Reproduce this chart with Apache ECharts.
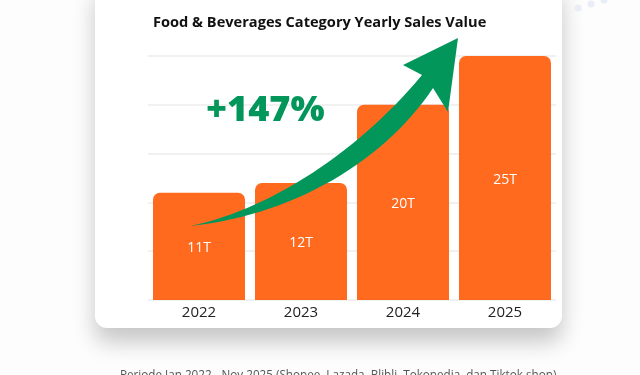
<!DOCTYPE html>
<html>
<head>
<meta charset="utf-8">
<script src="https://cdn.jsdelivr.net/npm/echarts@6/dist/echarts.min.js"></script>
<style>
    html, body { margin: 0; padding: 0; background: #fdfdfd; }
    #chart { width: 640px; height: 375px; }
</style>
</head>
<body>
<div id="chart"></div>
<script>
var years = ['2022', '2023', '2024', '2025'];
var salesValues = [11, 12, 20, 25];
var valueLabels = ['11T', '12T', '20T', '25T'];
var growthText = '+147%';
var titleText = 'Food & Beverages Category Yearly Sales Value';
var noteText = 'Periode Jan 2022 - Nov 2025 (Shopee, Lazada, Blibli, Tokopedia, dan Tiktok shop)';

var myChart = echarts.init(document.getElementById('chart'));

var green = '#02965b';
var orange = '#ff6a1f';

// sample a cubic bezier into points (for the decorative arrow)
function cubic(p0, p1, p2, p3, n) {
    var pts = [];
    for (var i = 0; i <= n; i++) {
        var t = i / n, u = 1 - t;
        pts.push([
            u * u * u * p0[0] + 3 * u * u * t * p1[0] + 3 * u * t * t * p2[0] + t * t * t * p3[0],
            u * u * u * p0[1] + 3 * u * u * t * p1[1] + 3 * u * t * t * p2[1] + t * t * t * p3[1]
        ]);
    }
    return pts;
}

var arrowPts = cubic([190, 226], [270, 210], [360, 150], [422, 75], 30)
    .concat([[403, 65], [458, 38], [448, 112]])
    .concat(cubic([433, 88], [385, 160], [295, 215], [190, 226], 30));

var option = {
    backgroundColor: '#fdfdfd',
    animation: false,
    title: {
        text: titleText,
        left: 148,
        top: 10,
        textStyle: {
            fontFamily: 'Open Sans',
            fontWeight: 'bold',
            fontSize: 14.6,
            color: '#111'
        }
    },
    grid: {
        left: 148,
        right: 84,
        top: 56,
        bottom: 75
    },
    xAxis: {
        type: 'category',
        data: years,
        axisLine: { show: false },
        axisTick: { show: false },
        axisLabel: {
            margin: 5,
            fontFamily: 'Open Sans',
            fontSize: 15,
            color: '#222'
        }
    },
    yAxis: {
        type: 'value',
        min: 0,
        max: 25,
        interval: 5,
        axisLabel: { show: false },
        axisLine: { show: false },
        axisTick: { show: false },
        splitLine: {
            lineStyle: { color: '#ececec', width: 1.5 }
        }
    },
    series: [
        {
            type: 'bar',
            barWidth: 92,
            z: 5,
            itemStyle: {
                color: orange,
                borderRadius: [7, 7, 0, 0]
            },
            label: {
                show: true,
                position: 'inside',
                offset: [0, 2],
                color: '#fff',
                fontFamily: 'Open Sans',
                fontSize: 14,
                formatter: function (p) {
                    return valueLabels[p.dataIndex];
                }
            },
            data: salesValues
        }
    ],
    graphic: [
        {
            type: 'rect',
            z: -100,
            shape: { x: 95, y: -20, width: 467, height: 348, r: 12 },
            style: {
                fill: '#ffffff',
                shadowBlur: 22,
                shadowOffsetY: 14,
                shadowColor: 'rgba(0,0,0,0.22)'
            }
        },
        { type: 'circle', z: -100, shape: { cx: 578, cy: 8, r: 3.5 }, style: { fill: '#e8edf6' } },
        { type: 'circle', z: -100, shape: { cx: 591, cy: 4, r: 3.5 }, style: { fill: '#e8edf6' } },
        { type: 'circle', z: -100, shape: { cx: 604, cy: 0, r: 3.5 }, style: { fill: '#e8edf6' } },
        {
            type: 'text',
            z: 100,
            x: 206,
            y: 93,
            style: {
                text: growthText,
                fill: green,
                font: '900 36px "Open Sans"'
            }
        },
        {
            type: 'polygon',
            z: 100,
            shape: { points: arrowPts },
            style: { fill: green }
        },
        {
            type: 'text',
            z: 100,
            x: 120,
            y: 370,
            style: {
                text: noteText,
                fill: '#555',
                font: '11.7px "Open Sans"'
            }
        }
    ]
};

myChart.setOption(option);
</script>
</body>
</html>
